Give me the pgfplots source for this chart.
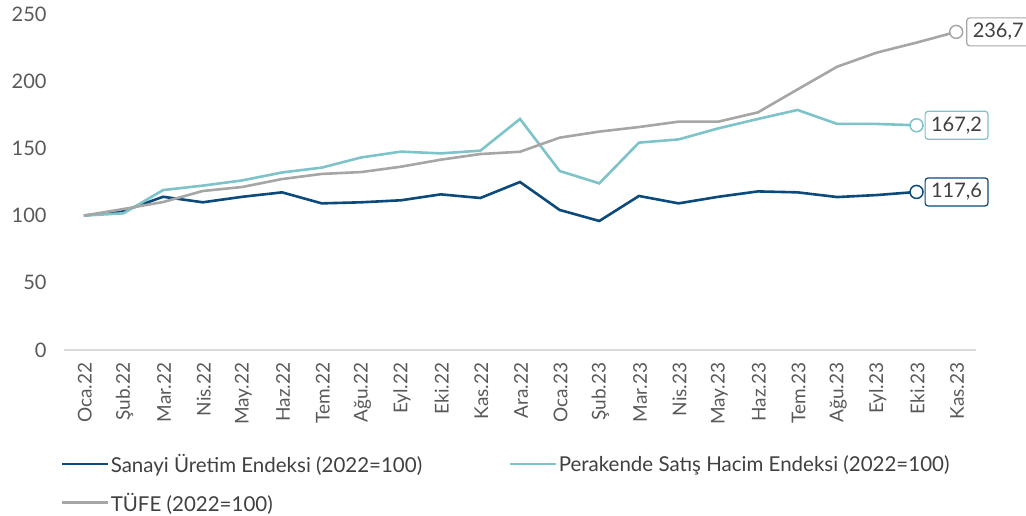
\documentclass[border=0pt]{standalone}
\usepackage{pgfplots}
\pgfplotsset{compat=1.18}
\usepackage{fontspec}
\setmainfont{Lato}
\definecolor{cSan}{HTML}{0B4A7A}
\definecolor{cPer}{HTML}{7EC3C9}
\definecolor{cTuf}{HTML}{A6A6A6}
\definecolor{axgray}{HTML}{D9D9D9}
\definecolor{tgray}{HTML}{595959}
\definecolor{ltext}{HTML}{404040}
\begin{document}
\begin{tikzpicture}
\path[use as bounding box] (0,0) rectangle (1026bp,516bp);
\begin{axis}[
  at={(64bp,166bp)}, anchor=south west,
  scale only axis, width=912bp, height=336bp,
  xmin=-0.5, xmax=22.5, ymin=0, ymax=250,
  clip=false,
  axis lines*=left,
  y axis line style={draw=none},
  x axis line style={draw=axgray, line width=1.2bp, -},
  ytick={0,50,100,150,200,250},
  ytick style={draw=none},
  xtick={0,...,22},
  xticklabels={Oca.22,Şub.22,Mar.22,Nis.22,May.22,Haz.22,Tem.22,Ağu.22,Eyl.22,Eki.22,Kas.22,Ara.22,Oca.23,Şub.23,Mar.23,Nis.23,May.23,Haz.23,Tem.23,Ağu.23,Eyl.23,Eki.23,Kas.23},
  minor xtick={-0.5,0.5,...,22.5},
  major tick length=0pt,
  minor tick length=6bp,
  tick align=outside,
  minor tick style={draw=axgray, line width=1.2bp},
  xtick style={draw=none},
  tick label style={text=tgray},
  /pgf/number format/assume math mode=true,
  yticklabel style={anchor=east, xshift=-14bp, font=\fontsize{20bp}{24bp}\selectfont},
  xticklabel style={rotate=90, anchor=east, xshift=-9bp, yshift=-1bp, font=\fontsize{19bp}{22bp}\selectfont},
  legend style={at={(0,0)}, anchor=north west, xshift=-6bp, yshift=-100bp,
    draw=none, fill=none, font=\fontsize{20.5bp}{24bp}\selectfont, text=ltext,
    /tikz/every even column/.append style={column sep=86bp},
    row sep=15bp, nodes={inner xsep=1bp}},
  legend columns=2,
  legend cell align=left,
  legend image code/.code={\draw[#1, line width=2.6bp] (0bp,0bp) -- (46bp,0bp);},
]
\addplot[cSan, line width=2.6bp, mark=none] coordinates {
(0,100) (1,103.4) (2,114) (3,109.9) (4,114) (5,117.3) (6,109.1) (7,109.9) (8,111.4) (9,115.8) (10,113.1) (11,125)
(12,104.2) (13,96) (14,114.6) (15,109.1) (16,114) (17,118) (18,117.3) (19,113.8) (20,115.3) (21,117.6)};
\addlegendentry{Sanayi Üretim Endeksi (2022=100)}
\addplot[cPer, line width=2.6bp, mark=none] coordinates {
(0,100) (1,101.7) (2,119) (3,122.3) (4,126.2) (5,132.1) (6,135.7) (7,143.3) (8,147.6) (9,146.3) (10,148.3) (11,171.9)
(12,133.2) (13,124) (14,154.3) (15,156.7) (16,164.9) (17,171.9) (18,178.6) (19,168.2) (20,168.2) (21,167.2)};
\addlegendentry{Perakende Satış Hacim Endeksi (2022=100)}
\addplot[cTuf, line width=2.6bp, mark=none] coordinates {
(0,100) (1,104.9) (2,110.1) (3,118.3) (4,121.3) (5,127.2) (6,131) (7,132.4) (8,136.4) (9,141.6) (10,145.8) (11,147.5)
(12,158) (13,162.5) (14,165.9) (15,169.9) (16,169.9) (17,176.8) (18,193.9) (19,210.8) (20,221.3) (21,228.7) (22,236.7)};
\addlegendentry{TÜFE (2022=100)}
\addplot[cSan, line width=1.5bp, only marks, mark=*, mark size=6.5bp, mark options={fill=white},
  nodes near coords={117,6},
  nodes near coords style={anchor=west, xshift=8bp, draw=cSan, line width=1.2bp, rounded corners=3bp, fill=white, text=ltext,
    font=\fontsize{20bp}{24bp}\selectfont, inner xsep=6bp, minimum height=28bp}] coordinates {(21,117.6)};
\addplot[cPer, line width=1.5bp, only marks, mark=*, mark size=6.5bp, mark options={fill=white},
  nodes near coords={167,2},
  nodes near coords style={anchor=west, xshift=8bp, draw=cPer, line width=1.2bp, rounded corners=3bp, fill=white, text=ltext,
    font=\fontsize{20bp}{24bp}\selectfont, inner xsep=6bp, minimum height=28bp}] coordinates {(21,167.2)};
\addplot[cTuf, line width=1.5bp, only marks, mark=*, mark size=6.5bp, mark options={fill=white},
  nodes near coords={236,7},
  nodes near coords style={anchor=west, xshift=10bp, draw=cTuf, line width=1.2bp, rounded corners=3bp, fill=white, text=ltext,
    font=\fontsize{20bp}{24bp}\selectfont, inner xsep=6bp, minimum height=28bp}] coordinates {(22,236.7)};
\end{axis}
\end{tikzpicture}
\end{document}
